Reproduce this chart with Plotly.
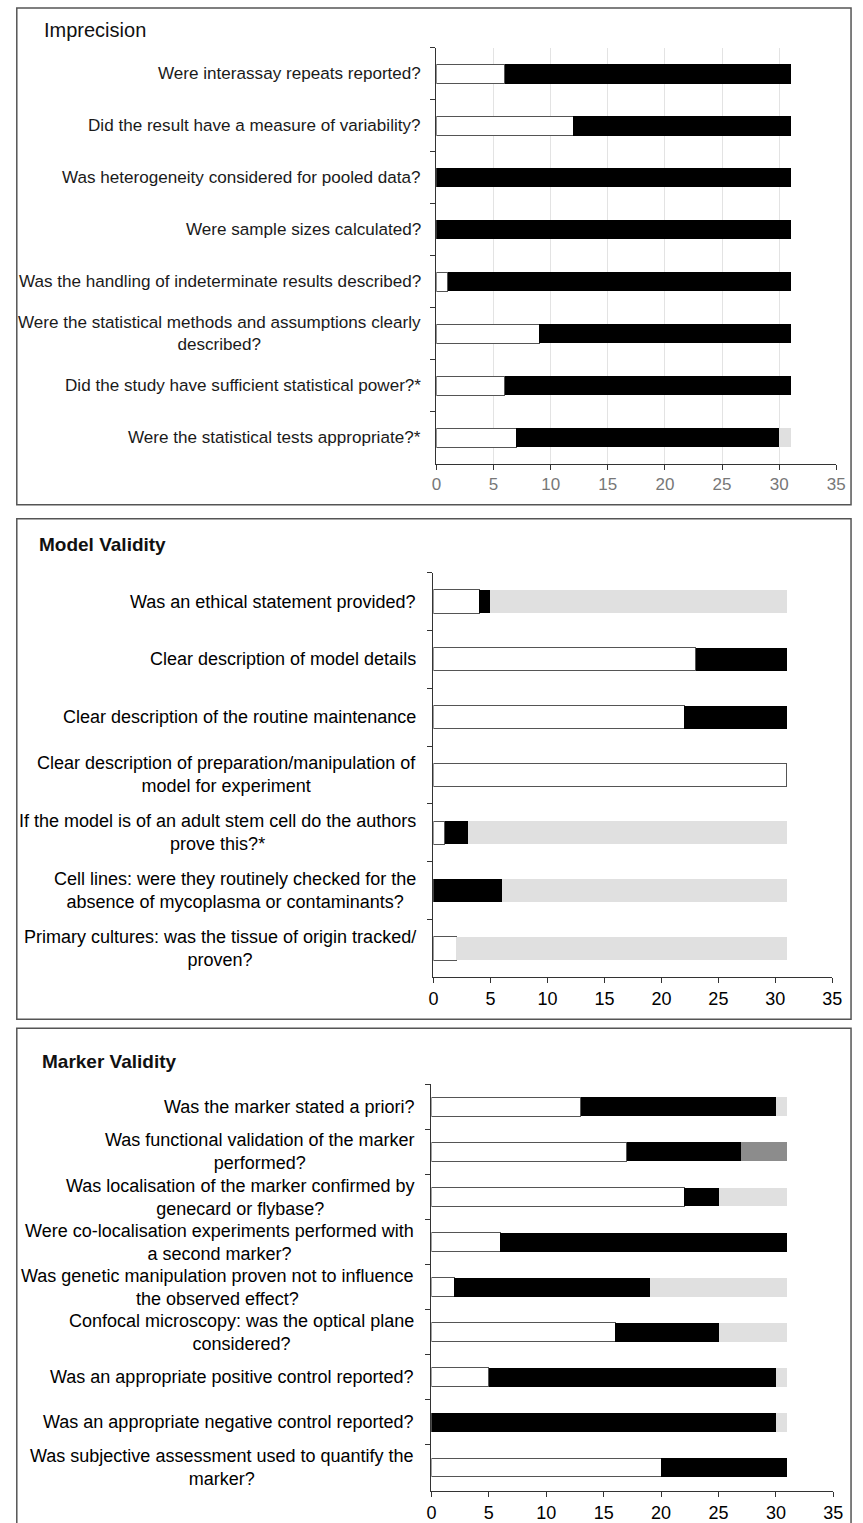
import plotly.graph_objects as go

W, H = 863, 1523

# ---------------- data ----------------
imp_labels = [
    "Were interassay repeats reported?",
    "Did the result have a measure of variability?",
    "Was heterogeneity considered for pooled data?",
    "Were sample sizes calculated?",
    "Was the handling of indeterminate results described?",
    "Were the statistical methods and assumptions clearly<br>described?",
    "Did the study have sufficient statistical power?*",
    "Were the statistical tests appropriate?*",
]
imp_white = [6, 12, 0, 0, 1, 9, 6, 7]
imp_black = [25, 19, 31, 31, 30, 22, 25, 23]
imp_light = [0, 0, 0, 0, 0, 0, 0, 1]

mod_labels = [
    "Was an ethical statement provided?",
    "Clear description of model details",
    "Clear description of the routine maintenance",
    "Clear description of preparation/manipulation of<br>model for experiment",
    "If the model is of an adult stem cell do the authors<br>prove this?*",
    "Cell lines: were they routinely checked for the<br>absence of mycoplasma or contaminants?",
    "Primary cultures: was the tissue of origin tracked/<br>proven?",
]
mod_white = [4, 23, 22, 31, 1, 0, 2]
mod_black = [1, 8, 9, 0, 2, 6, 0]
mod_light = [26, 0, 0, 0, 28, 25, 29]

mar_labels = [
    "Was the marker stated a priori?",
    "Was functional validation of the marker<br>performed?",
    "Was localisation of the marker confirmed by<br>genecard or flybase?",
    "Were co-localisation experiments performed with<br>a second marker?",
    "Was genetic manipulation proven not to influence<br>the observed effect?",
    "Confocal microscopy: was the optical plane<br>considered?",
    "Was an appropriate positive control reported?",
    "Was an appropriate negative control reported?",
    "Was subjective assessment used to quantify the<br>marker?",
]
mar_white = [13, 17, 22, 6, 2, 16, 5, 0, 20]
mar_black = [17, 10, 3, 25, 17, 9, 25, 30, 11]
mar_light = [1, 0, 6, 0, 12, 6, 1, 1, 0]
mar_dark = [0, 4, 0, 0, 0, 0, 0, 0, 0]

x_ticks = [0, 5, 10, 15, 20, 25, 30, 35]

# ---------------- helpers ----------------
def px(x):
    return x / W

def py(y):
    return 1 - y / H

WHITE = "#ffffff"
BLACK = "#000000"
LIGHT = "#e0e0e0"
DARK = "#8c8c8c"
FONT = "Liberation Sans, Arial, sans-serif"

panels = [
    dict(labels=imp_labels, series=[(imp_white, WHITE), (imp_black, BLACK), (imp_light, LIGHT)],
         x0=439, x1=846, y0=48, y1=464, width=0.37, grid=True, tickcol="#777777",
         tickfont=17, labfont=17.1, labcol="#1a1a1a", labgap=14,
         title="Imprecision", bold=False, tsize=20, tx=38, ty=30, box=(12, 8, 861, 505)),
    dict(labels=mod_labels, series=[(mod_white, WHITE), (mod_black, BLACK), (mod_light, LIGHT)],
         x0=436, x1=842, y0=573, y1=978, width=0.40, grid=False, tickcol="#000000",
         tickfont=18, labfont=18, labcol="#000000", labgap=16,
         title="Model Validity", bold=True, tsize=19, tx=33, ty=545, box=(12, 519, 861, 1020)),
    dict(labels=mar_labels, series=[(mar_white, WHITE), (mar_black, BLACK), (mar_light, LIGHT), (mar_dark, DARK)],
         x0=434, x1=843, y0=1085, y1=1492, width=0.42, grid=False, tickcol="#000000",
         tickfont=18, labfont=18, labcol="#000000", labgap=16,
         title="Marker Validity", bold=True, tsize=19, tx=36, ty=1062, box=(12, 1029, 861, 1530)),
]

fig = go.Figure()
annotations = []
shapes = []
layout_axes = {}

for i, p in enumerate(panels, start=1):
    xa = "x" if i == 1 else f"x{i}"
    ya = "y" if i == 1 else f"y{i}"
    for vals, col in p["series"]:
        fig.add_trace(go.Bar(
            y=p["labels"], x=vals, orientation="h", xaxis=xa, yaxis=ya,
            marker=dict(color=col,
                        line=dict(color="#555555" if col == WHITE else col, width=1 if col == WHITE else 0)),
            width=p["width"], showlegend=False, hoverinfo="x+y",
        ))
    xkey = "xaxis" if i == 1 else f"xaxis{i}"
    ykey = "yaxis" if i == 1 else f"yaxis{i}"
    layout_axes[xkey] = dict(
        domain=[px(p["x0"]), px(p["x1"])], anchor=ya, range=[0, 35],
        tickvals=x_ticks, ticks="outside", ticklen=5, tickcolor="#333333",
        showline=True, linecolor="#333333", linewidth=1.2,
        showgrid=p["grid"], gridcolor="#e3e3e3", gridwidth=1, zeroline=False,
        tickfont=dict(family=FONT, size=p["tickfont"], color=p["tickcol"]),
        fixedrange=True,
    )
    layout_axes[ykey] = dict(
        domain=[py(p["y1"]), py(p["y0"])], anchor=xa, type="category",
        categoryorder="array", categoryarray=p["labels"], autorange="reversed",
        showticklabels=False, ticks="outside", ticklen=5, tickcolor="#333333",
        tickson="boundaries", showline=True, linecolor="#333333", linewidth=1.2,
        showgrid=False, zeroline=False, fixedrange=True,
    )
    for lab in p["labels"]:
        annotations.append(dict(
            xref="paper", yref=ya, x=px(p["x0"] - p["labgap"]), y=lab,
            text=lab, showarrow=False, xanchor="right", yanchor="middle", align="center",
            font=dict(family=FONT, size=p["labfont"], color=p["labcol"]),
        ))
    title_txt = f"<b>{p['title']}</b>" if p["bold"] else p["title"]
    annotations.append(dict(
        xref="paper", yref="paper", x=px(p["tx"]), y=py(p["ty"]), text=title_txt,
        showarrow=False, xanchor="left", yanchor="middle",
        font=dict(family=FONT, size=p["tsize"], color="#111111"),
    ))
    bx0, by0, bx1, by1 = p["box"]
    shapes.append(dict(type="rect", xref="paper", yref="paper",
                       x0=px(bx0), x1=px(bx1), y0=py(by1), y1=py(by0),
                       line=dict(color="#555555", width=1.5), fillcolor="rgba(0,0,0,0)", layer="below"))

fig.update_layout(
    width=W, height=H, margin=dict(l=0, r=0, t=0, b=0),
    paper_bgcolor="white", plot_bgcolor="white",
    barmode="stack", bargap=0.6, showlegend=False,
    annotations=annotations, shapes=shapes,
    **layout_axes,
)

fig.write_html(
    "out.html",
    config={"displayModeBar": False},
    post_script="document.body.style.margin='0';document.body.style.overflow='hidden';",
)
